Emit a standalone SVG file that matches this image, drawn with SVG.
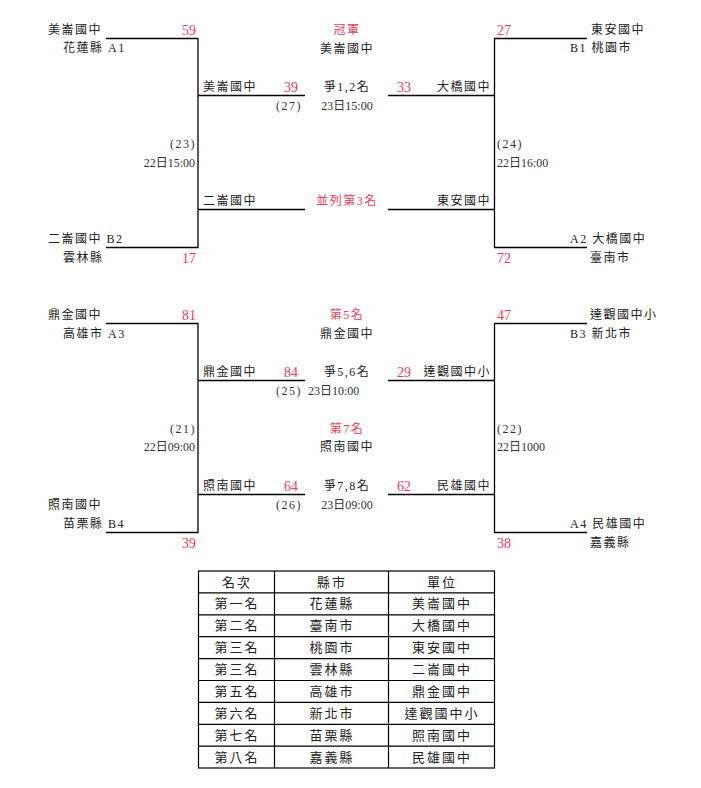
<svg xmlns="http://www.w3.org/2000/svg" width="701" height="788" viewBox="0 0 701 788">
<style>
.t{font-family:"Liberation Serif","Noto Sans CJK TC",serif;font-size:12px;letter-spacing:1.5px;fill:#222}
.d{font-family:"Liberation Serif","Noto Sans CJK TC",serif;font-size:12px;fill:#333}
.r{font-family:"Liberation Serif","Noto Sans CJK TC",serif;font-size:14px;fill:#f03a5a}
.rt{font-family:"Liberation Serif","Noto Sans CJK TC",serif;font-size:12px;letter-spacing:1.5px;fill:#f03a5a}
.tb{font-family:"Liberation Serif","Noto Sans CJK TC",serif;font-size:13px;letter-spacing:2px;fill:#222;text-anchor:middle}
.e{text-anchor:end}
.m{text-anchor:middle}
.ln{stroke:#000;stroke-width:1.3;fill:none}
</style>
<rect width="701" height="788" fill="#fff"/>
<g id="connectors" class="ln">
<path d="M106,38.5H198V247.5H106"/>
<path d="M198,95.5H305"/>
<path d="M198,209.5H305"/>
<path d="M587,38.5H494.5V247.5H587"/>
<path d="M388,95.5H494.5"/>
<path d="M388,209.5H494.5"/>
<path d="M106,323.5H198V532.5H106"/>
<path d="M198,380.5H305"/>
<path d="M198,494.5H305"/>
<path d="M587,323.5H494.5V532.5H587"/>
<path d="M388,380.5H494.5"/>
<path d="M388,494.5H494.5"/>
</g>
<g id="team-A1">
<text class="t" x="48" y="34">美崙國中</text>
<text class="t" x="63" y="52">花蓮縣 A1</text>
<text class="r e" x="196" y="35">59</text>
</g>
<g id="team-B2">
<text class="t" x="48" y="243">二崙國中 B2</text>
<text class="t" x="63" y="262">雲林縣</text>
<text class="r e" x="196" y="263">17</text>
</g>
<g id="match-23">
<text class="d e" x="196" y="148" style="letter-spacing:1.5px">(23)</text>
<text class="d e" x="195" y="167">22日15:00</text>
</g>
<g id="team-B1">
<text class="r" x="497" y="35">27</text>
<text class="t" x="591" y="34">東安國中</text>
<text class="t" x="570" y="52">B1 桃園市</text>
</g>
<g id="team-A2">
<text class="t" x="570" y="243">A2 大橋國中</text>
<text class="t" x="590" y="262">臺南市</text>
<text class="r" x="497" y="263">72</text>
</g>
<g id="match-24">
<text class="d" x="497" y="148" style="letter-spacing:1.5px">(24)</text>
<text class="d" x="497" y="167">22日16:00</text>
</g>
<g id="final">
<text class="t" x="203" y="91">美崙國中</text>
<text class="r e" x="298" y="92">39</text>
<text class="d e" x="302" y="110" style="letter-spacing:1.5px">(27)</text>
<text class="r" x="397" y="92">33</text>
<text class="t e" x="491" y="91">大橋國中</text>
<text class="rt m" x="347" y="34">冠軍</text>
<text class="t m" x="347" y="53">美崙國中</text>
<text class="t m" x="347" y="91">爭1,2名</text>
<text class="d m" x="347" y="110">23日15:00</text>
</g>
<g id="third">
<text class="t" x="203" y="205">二崙國中</text>
<text class="rt m" x="347" y="205">並列第3名</text>
<text class="t e" x="491" y="205">東安國中</text>
</g>
<g id="team-A3">
<text class="t" x="48" y="319">鼎金國中</text>
<text class="t" x="63" y="338">高雄市 A3</text>
<text class="r e" x="196" y="320">81</text>
</g>
<g id="team-B4">
<text class="t" x="48" y="509">照南國中</text>
<text class="t" x="63" y="528">苗栗縣 B4</text>
<text class="r e" x="196" y="548">39</text>
</g>
<g id="match-21">
<text class="d e" x="196" y="433" style="letter-spacing:1.5px">(21)</text>
<text class="d e" x="195" y="451">22日09:00</text>
</g>
<g id="team-B3">
<text class="r" x="497" y="320">47</text>
<text class="t" x="590" y="319">達觀國中小</text>
<text class="t" x="570" y="338">B3 新北市</text>
</g>
<g id="team-A4">
<text class="t" x="570" y="528">A4 民雄國中</text>
<text class="t" x="590" y="547">嘉義縣</text>
<text class="r" x="497" y="548">38</text>
</g>
<g id="match-22">
<text class="d" x="497" y="433" style="letter-spacing:1.5px">(22)</text>
<text class="d" x="497" y="451">22日1000</text>
</g>
<g id="fifth">
<text class="t" x="203" y="376">鼎金國中</text>
<text class="r e" x="298" y="377">84</text>
<text class="d e" x="302" y="395" style="letter-spacing:1.5px">(25)</text>
<text class="d" x="308" y="395">23日10:00</text>
<text class="r" x="397" y="377">29</text>
<text class="t e" x="491" y="376">達觀國中小</text>
<text class="rt m" x="347" y="319">第5名</text>
<text class="t m" x="347" y="338">鼎金國中</text>
<text class="t m" x="347" y="376">爭5,6名</text>
</g>
<g id="seventh">
<text class="t" x="203" y="490">照南國中</text>
<text class="r e" x="298" y="491">64</text>
<text class="d e" x="302" y="509" style="letter-spacing:1.5px">(26)</text>
<text class="r" x="397" y="491">62</text>
<text class="t e" x="491" y="490">民雄國中</text>
<text class="rt m" x="347" y="433">第7名</text>
<text class="t m" x="347" y="451">照南國中</text>
<text class="t m" x="347" y="490">爭7,8名</text>
<text class="d m" x="347" y="509">23日09:00</text>
</g>
<g id="table">
<rect x="198.5" y="571" width="296" height="197" fill="none" stroke="#000" stroke-width="1.2"/>
<path d="M274.5,571V768M388.5,571V768M198.5,592.9H494.5M198.5,614.8H494.5M198.5,636.7H494.5M198.5,658.6H494.5M198.5,680.5H494.5M198.5,702.4H494.5M198.5,724.3H494.5M198.5,746.2H494.5" stroke="#000" stroke-width="1.2" fill="none"/>
<g class="tb">
<text x="237" y="586.5">名次</text><text x="332" y="586.5">縣市</text><text x="442" y="586.5">單位</text>
<text x="237" y="608.3">第一名</text><text x="332" y="608.3">花蓮縣</text><text x="442" y="608.3">美崙國中</text>
<text x="237" y="630.2">第二名</text><text x="332" y="630.2">臺南市</text><text x="442" y="630.2">大橋國中</text>
<text x="237" y="652.1">第三名</text><text x="332" y="652.1">桃園市</text><text x="442" y="652.1">東安國中</text>
<text x="237" y="674">第三名</text><text x="332" y="674">雲林縣</text><text x="442" y="674">二崙國中</text>
<text x="237" y="695.9">第五名</text><text x="332" y="695.9">高雄市</text><text x="442" y="695.9">鼎金國中</text>
<text x="237" y="717.8">第六名</text><text x="332" y="717.8">新北市</text><text x="442" y="717.8">達觀國中小</text>
<text x="237" y="739.7">第七名</text><text x="332" y="739.7">苗栗縣</text><text x="442" y="739.7">照南國中</text>
<text x="237" y="761.6">第八名</text><text x="332" y="761.6">嘉義縣</text><text x="442" y="761.6">民雄國中</text>
</g>
</g>
</svg>
